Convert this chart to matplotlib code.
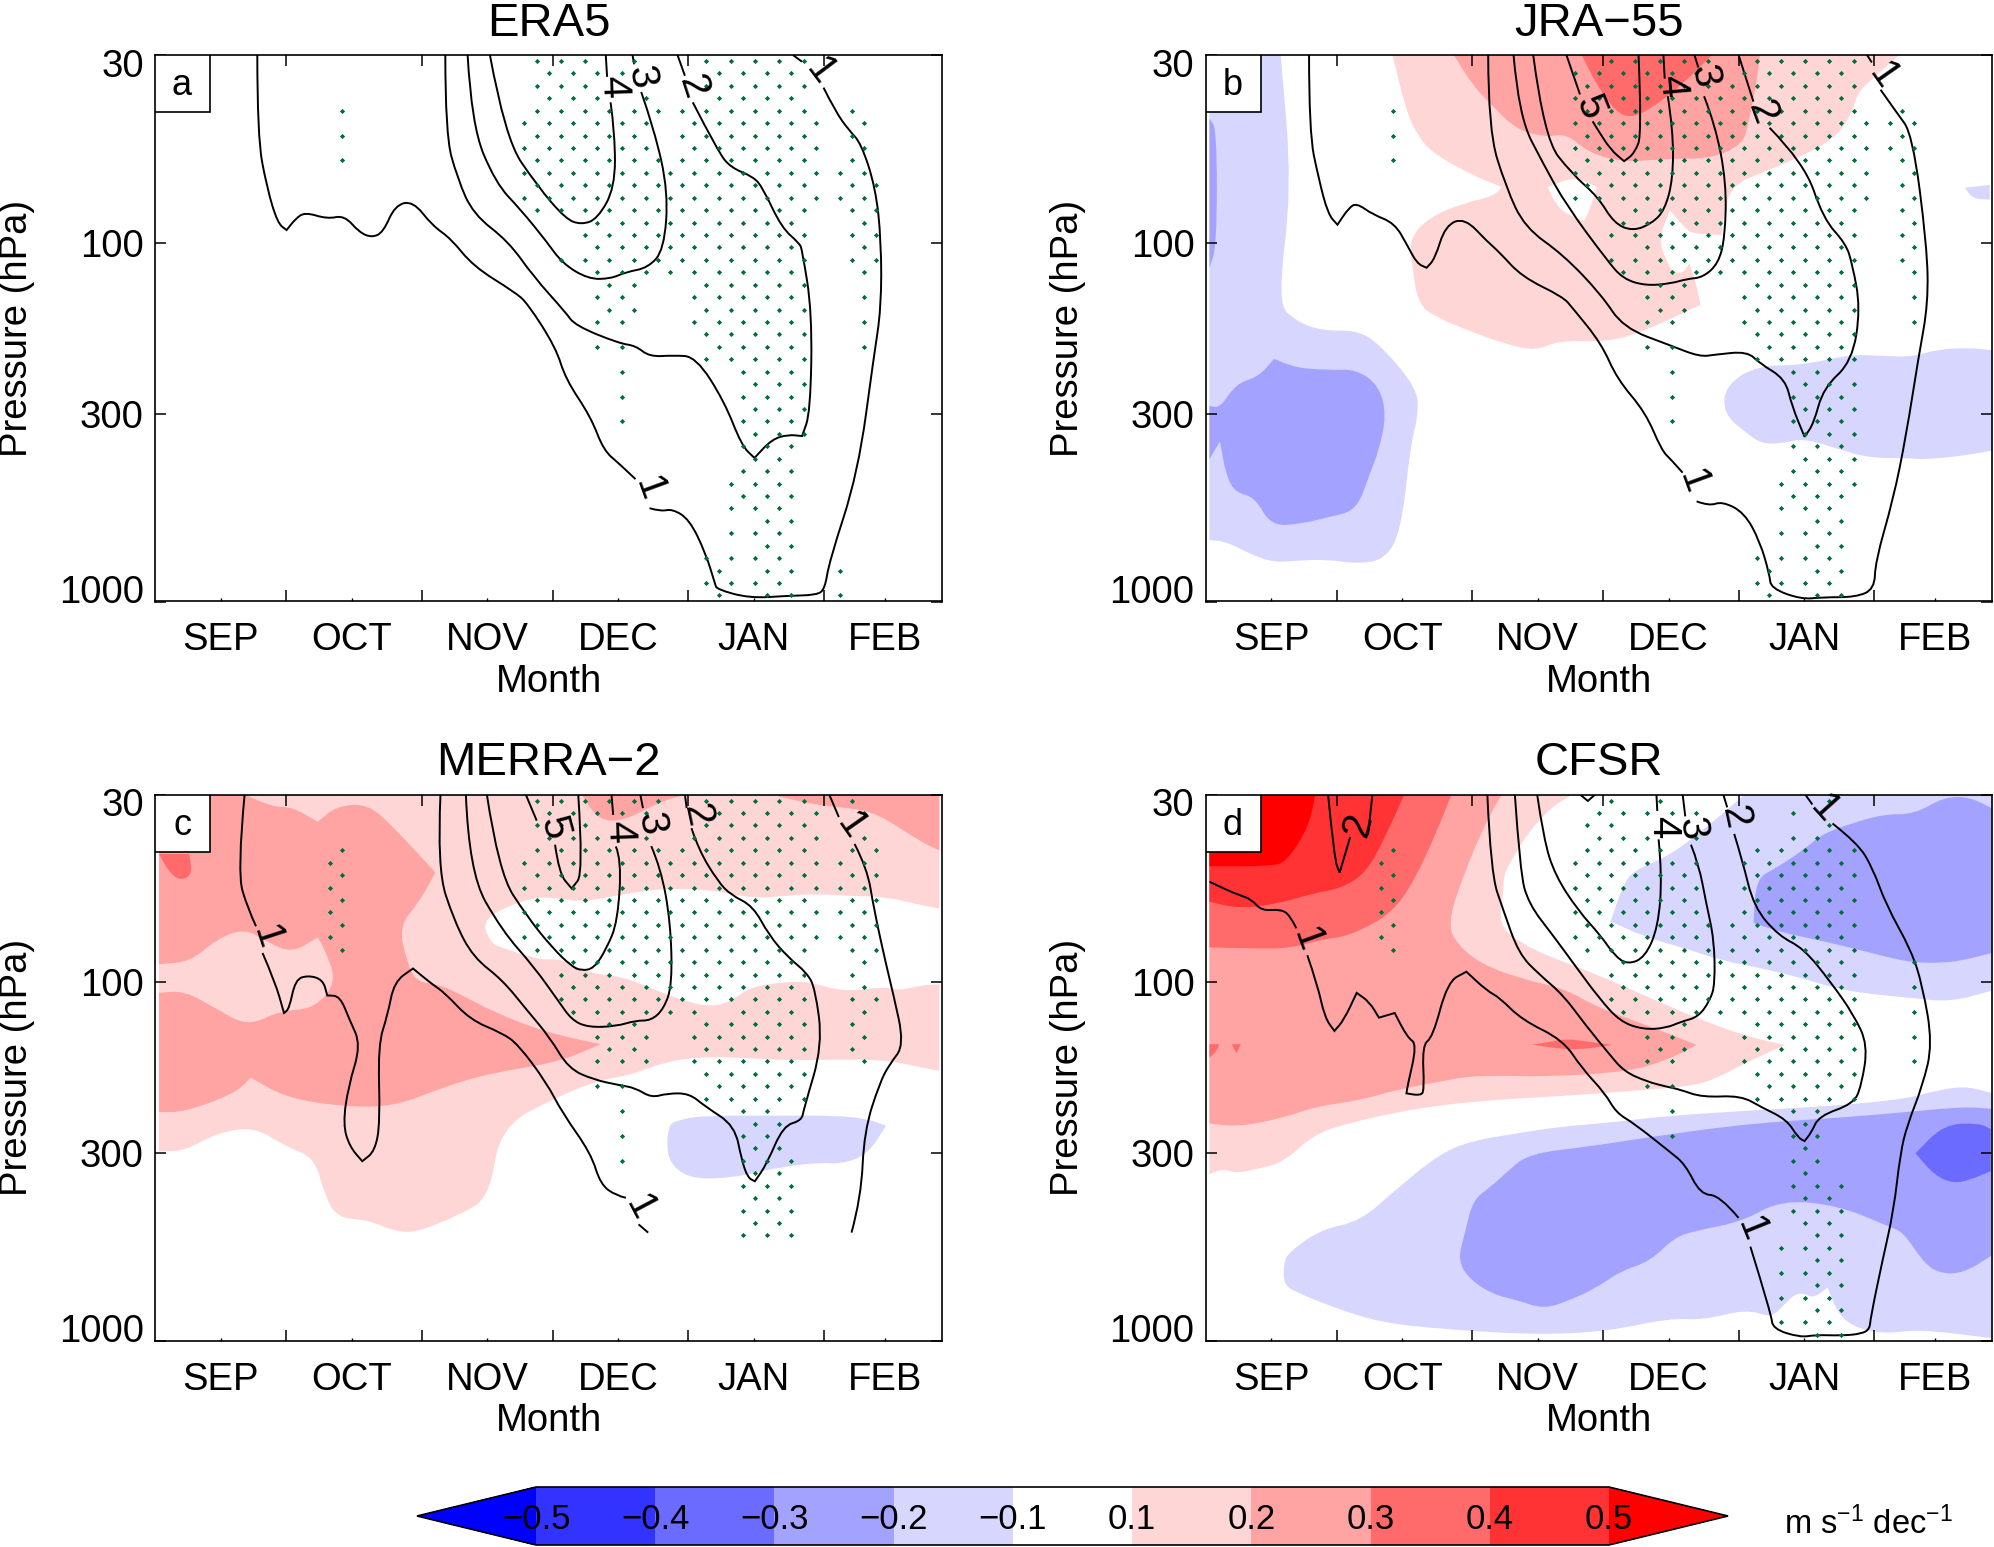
#!/usr/bin/python3
import numpy as np
import matplotlib
matplotlib.use('Agg')
import matplotlib.pyplot as plt
from matplotlib.cm import ScalarMappable
from matplotlib.colors import BoundaryNorm, ListedColormap
from matplotlib.patches import PathPatch, Rectangle
from matplotlib.path import Path
from matplotlib.transforms import ScaledTranslation

plt.rcParams['font.family'] = ['Liberation Sans', 'DejaVu Sans']
plt.rcParams['mathtext.default'] = 'regular'

GAP = (np.nan, np.nan)

months = ['SEP', 'OCT', 'NOV', 'DEC', 'JAN', 'FEB']
month_mid = [15, 45, 76, 106, 137, 167]
month_edge = [30, 61, 91, 122, 153]
p_ticks = [30, 100, 300, 1000]
titles = ['ERA5', 'JRA\u221255', 'MERRA\u22122', 'CFSR']
tags = ['a', 'b', 'c', 'd']

levels = [-0.5, -0.4, -0.3, -0.2, -0.1, 0.1, 0.2, 0.3, 0.4, 0.5]
cbar_labels = ['\u22120.5', '\u22120.4', '\u22120.3', '\u22120.2', '\u22120.1', '0.1', '0.2', '0.3', '0.4', '0.5']
B4, B3, B2, B1 = '#3333ff', '#6b6bff', '#a3a3ff', '#d6d6ff'
R1, R2, R3, R4 = '#ffd6d6', '#ffa3a3', '#ff6b6b', '#ff3333'
B5, R5 = '#0000ff', '#ff0000'

# all curves are (day since 1 Sep, log10 hPa)
# ---- climatological wind contours, panel a
a_c1 = [(23.4,1.477),(23.4,1.704),(25.6,1.847),(28.05,1.946),(30.1,1.965),(32.1,1.934),(34.3,1.915),(39.4,1.934),
        (43.3,1.924),(46.7,1.971),(49.6,1.986),(52.2,1.971),(54.9,1.896),(59.0,1.884),(63.4,1.952),(67.7,1.989),
        (72.8,2.066),(82.3,2.138),(85.2,2.169),(91.7,2.293),(93.9,2.380),(99.7,2.486),(102.6,2.579),(106.2,2.616),
        (109.9,2.659),GAP,(113.1,2.740),(115.7,2.749),(118.3,2.742),(122.2,2.771),(125.9,2.864),(128.1,2.951),
        (128.5,2.966),(136.0,2.991),(144.8,2.984),(151.3,2.982),(153.2,2.966),(154.2,2.889),(160.8,2.641),
        (164.4,2.318),(166.1,2.182),(166.1,1.996),(164.8,1.847),(161.5,1.723),(158.6,1.685),(155.7,1.636),
        (152.9,1.568),GAP,(148.0,1.496),(145.9,1.477)]
a_c2 = [(66.4,1.477),(66.4,1.698),(69.2,1.822),(72.8,1.921),(80.8,1.996),(86.6,2.095),(93.9,2.194),(96.1,2.231),
        (106.2,2.281),(109.9,2.287),(113.1,2.318),(118.6,2.314),(123.7,2.318),(130.2,2.442),(134.2,2.566),
        (137.1,2.600),(141.1,2.548),(144.8,2.535),(148.0,2.539),(149.9,2.473),(150.3,2.194),(148.0,2.020),
        (147.4,2.002),(143.3,1.958),(139.0,1.847),(136.8,1.816),(131.7,1.791),(128.8,1.747),(123.0,1.609),GAP,
        (121.2,1.535),(119.5,1.477)]
a_c3 = [(71.5,1.477),(72.4,1.673),(77.9,1.834),(83.7,1.909),(89.5,1.996),(93.2,2.058),(99.0,2.101),(104.1,2.101),
        (107.7,2.082),(112.8,2.070),(116.4,2.020),(117.4,1.859),(114.2,1.685),(111.2,1.580),GAP,(109.6,1.503),(109.2,1.477)]
a_c4 = [(76.6,1.477),(80.1,1.710),(87.4,1.841),(93.9,1.934),(97.5,1.950),(101.2,1.934),(105.2,1.847),(105.2,1.698),
        (104.2,1.609),GAP,(103.4,1.538),(103.1,1.477)]
a_labels = [('1',113.1,2.686,-70),('1',152.1,1.523,-53),('2',123.0,1.567,-72),('3',111.3,1.540,-80),('4',104.8,1.565,-88)]

# ---- panel b
b_c1 = [(23.7,1.477),(23.7,1.692),(25.9,1.822),(28.05,1.921),(30.2,1.950),(32.8,1.903),(34.6,1.890),(38.2,1.921),
        (43.3,1.946),(46.2,2.008),(48.4,2.058),(50.6,2.070),(52.5,2.045),(54.9,1.952),(59.3,1.931),(64.4,1.996),
        (67.3,2.027),(72.4,2.095),(81.8,2.151),(84.0,2.182),(90.6,2.281),(94.2,2.380),(100.7,2.473),(104.4,2.579),
        (106.5,2.604),(109.2,2.641),GAP,(112.4,2.721),(115.3,2.734),(118.2,2.721),(123.3,2.752),(126.9,2.833),
        (129.1,2.926),(129.4,2.963),(136.3,2.994),(141.4,2.988),(148.7,2.988),(153.1,2.966),(153.3,2.889),
        (157.4,2.715),(160.3,2.541),(163.2,2.318),(165.4,2.169),(165.1,2.008),(161.8,1.698),(158.1,1.636),
        (154.5,1.574),GAP,(152.5,1.498),(151.4,1.477)]
b_c2 = [(64.7,1.477),(64.7,1.685),(68.8,1.847),(73.1,1.958),(81.8,2.033),(90.6,2.145),(95.6,2.237),(106.5,2.287),
        (113.1,2.318),(116.7,2.312),(124.0,2.303),(126.9,2.337),(132.7,2.380),(134.2,2.455),(137.1,2.541),
        (139.2,2.504),(141.4,2.405),(148.0,2.331),(149.9,2.182),(148.0,2.058),(146.5,2.002),(141.4,1.934),
        (137.1,1.779),(129.1,1.680),GAP,(125.4,1.607),(122.0,1.477)]
b_c3 = [(70.5,1.477),(71.7,1.648),(77.5,1.785),(82.6,1.896),(92.0,2.051),(95.6,2.101),(100.7,2.120),(106.5,2.114),
        (110.2,2.101),(113.8,2.097),(117.4,2.058),(118.9,1.983),(119.2,1.834),(116.7,1.673),(114.1,1.592),GAP,
        (112.8,1.512),(111.9,1.477)]
b_c4 = [(75.0,1.477),(77.5,1.710),(84.0,1.810),(89.8,1.872),(93.5,1.946),(97.8,1.968),(102.2,1.946),(105.1,1.909),
        (107.0,1.822),(107.0,1.685),(105.8,1.592),GAP,(105.1,1.543),(104.8,1.477)]
b_c5 = [(82.6,1.477),(85.7,1.587),GAP,(88.6,1.662),(89.6,1.682),(92.7,1.741),(95.8,1.773),(98.2,1.751),(99.9,1.696),(99.1,1.477)]
b_labels = [('1',111.6,2.666,-70),('1',155.2,1.534,-55),('2',127.3,1.637,-70),('3',114.2,1.535,-80),
            ('4',106.7,1.564,-85),('5',87.9,1.622,-68)]

# ---- panel c
c_c1a = [(20.5,1.477),(18.8,1.695),(21.2,1.795),(23.1,1.844),GAP,(24.6,1.919),(27.5,2.0),(29.5,2.086),(30.7,2.074),
         (32.1,1.993),(35.0,1.981),(38.4,1.993),(39.4,2.037),(42.3,2.039),(44.5,2.105),(47.1,2.175),(44.2,2.291),
         (43.0,2.396),(44.5,2.458),(47.4,2.499),(50.3,2.471),(51.5,2.390),(51.0,2.175),(53.2,2.092),(54.7,1.999),
         (59.0,1.962),(63.4,2.006),(66.3,2.030),(72.1,2.105),(79.4,2.142),(83.0,2.173),(89.5,2.279),(93.2,2.365),
         (99.7,2.477),(101.9,2.564),(105.5,2.595),(107.7,2.601),GAP,(110.6,2.675),(112.8,2.698)]
c_c1b = [(159.3,2.698),(161.5,2.601),(162.2,2.415),(165.8,2.279),(168.0,2.229),(171.4,2.175),(168.8,2.030),
         (167.3,1.956),(164.4,1.795),(162.9,1.683),(160.0,1.615),GAP,(156.4,1.540),(154.2,1.477)]
c_c2 = [(65.3,1.477),(64.5,1.683),(68.5,1.832),(72.8,1.931),(79.4,1.993),(85.2,2.080),(90.3,2.154),(94.6,2.241),
        (100.4,2.272),(106.2,2.287),(109.9,2.295),(113.5,2.322),(117.2,2.310),(122.2,2.310),(125.9,2.347),
        (132.6,2.400),(134.2,2.497),(135.6,2.545),(137.2,2.555),(139.9,2.507),(143.7,2.400),(147.9,2.386),
        (148.4,2.353),(152.7,2.176),(151.0,2.018),(149.1,1.974),(144.8,1.931),(140.4,1.869),(136.8,1.788),
        (131.7,1.757),(128.8,1.720),(124.4,1.633),(122.7,1.571),GAP,(121.6,1.515),(121.2,1.477)]
c_c3 = [(71.1,1.477),(71.8,1.695),(79.4,1.857),(86.6,1.956),(92.4,2.055),(95.3,2.105),(99.0,2.126),(105.5,2.123),
        (109.9,2.107),(113.5,2.107),(116.4,2.074),(118.3,2.006),(117.9,1.832),(115.7,1.683),(113.5,1.621),GAP,
        (111.6,1.515),(111.0,1.477)]
c_c4 = [(75.9,1.477),(78.6,1.695),(85.2,1.819),(91.0,1.906),(95.3,1.956),(97.5,1.968),(100.4,1.962),(103.3,1.906),
        (105.8,1.832),(106.7,1.658),(105.4,1.622),GAP,(104.8,1.534),(104.4,1.477)]
c_c5 = [(84.8,1.477),(87.3,1.550),GAP,(91.5,1.617),(92.4,1.697),(95.3,1.739),(98.0,1.697),(96.8,1.477)]
c_labels = [('1',25.6,1.875,-72),('1',110.9,2.630,-62),('1',159.3,1.566,-55),('2',123.9,1.537,-78),
            ('3',113.4,1.557,-82),('4',106.3,1.580,-88),('5',91.3,1.571,-75)]

# ---- panel d
d_c1 = [(0.9,1.720),(4.8,1.743),(7.7,1.757),(10.6,1.770),(12.8,1.801),(17.2,1.797),(19.3,1.813),(20.8,1.850),GAP,
        (23.3,1.925),(25.6,2.006),(27.3,2.099),(29.5,2.136),(31.7,2.105),(34.6,2.030),(37.5,2.055),(39.7,2.099),
        (43.3,2.086),(46.2,2.154),(48.4,2.173),(46.2,2.291),(46.0,2.310),(49.1,2.316),(50.1,2.303),(49.6,2.175),
        (52.0,2.154),(55.4,1.999),(59.7,1.971),(64.4,2.024),(67.3,2.043),(72.4,2.105),(81.8,2.161),(86.2,2.241),
        (91.4,2.309),(94.0,2.364),(98.0,2.393),(106.3,2.473),(109.8,2.508),(113.3,2.592),(117.7,2.594),(122.0,2.657),GAP,
        (124.7,2.737),(129.5,2.926),(129.8,2.966),(136.1,2.990),(139.6,2.983),(145.7,2.985),(150.1,2.980),
        (152.0,2.967),(152.2,2.936),(154.9,2.777),(157.5,2.637),(159.0,2.478),(160.6,2.398),(164.1,2.289),
        (166.4,2.172),(164.1,2.010),(161.5,1.911),(155.8,1.786),(152.7,1.682),(149.2,1.612),(143.5,1.558),GAP,
        (138.9,1.505),(137.3,1.478)]
d_c1b = [(28.05,1.477),(29.5,1.658),(30.7,1.695),(33.1,1.596),GAP,(37.2,1.590),(38.2,1.477)]
d_c2 = [(64.5,1.477),(65.3,1.697),(68.2,1.801),(71.7,1.921),(76.5,1.980),(81.8,2.035),(87.0,2.120),(92.3,2.199),
        (95.8,2.249),(101.0,2.277),(105.4,2.291),(108.5,2.299),(113.7,2.321),(122.5,2.316),(127.3,2.349),
        (133.0,2.383),(135.6,2.433),(137.1,2.443),(138.7,2.418),(140.4,2.373),(148.3,2.339),(150.1,2.289),
        (151.6,2.175),(148.3,2.090),(143.1,2.000),(136.9,1.906),(131.2,1.871),(125.5,1.791),(122.9,1.662),
        (121.0,1.587),GAP,(119.4,1.513),(118.5,1.477)]
d_c3 = [(70.8,1.477),(72.0,1.692),(73.9,1.781),(79.6,1.871),(84.4,1.951),(90.1,2.045),(94.9,2.110),(100.2,2.132),
        (105.4,2.128),(108.9,2.110),(112.8,2.097),(115.5,2.050),(116.6,2.005),(116.4,1.881),(114.6,1.781),
        (112.9,1.672),(111.1,1.617),GAP,(109.8,1.538),(109.2,1.477)]
d_c4 = [(75.9,1.477),(77.4,1.602),(80.0,1.702),(85.3,1.801),(90.5,1.871),(93.6,1.926),(96.6,1.951),(100.6,1.931),
        (103.6,1.846),(104.5,1.702),(103.7,1.602),GAP,(103.4,1.523),(103.2,1.477)]
d_c5 = [(85.7,1.477),(87.5,1.495),(89.2,1.477)]
d_labels = [('1',23.3,1.881,-70),('1',124.8,2.689,-68),('1',141.7,1.518,-48),('2',121.2,1.543,-78),
            ('3',111.4,1.572,-82),('4',104.8,1.568,-90),('2',34.9,1.561,75)]

# ---- trend shading, panel b
b_blue1 = [(0.9,1.477),(17.2,1.477),(19.8,1.847),(16.4,2.169),(20.8,2.219),(26.6,2.246),(34.6,2.244),(39.7,2.281),
           (48.4,2.405),(48.7,2.479),(46.9,2.566),(44.8,2.802),(41.1,2.883),(34.6,2.895),(28.1,2.883),(20.8,2.886),
           (15.7,2.891),(10.6,2.870),(4.8,2.833),(0.9,2.829)]
b_blue2 = [(0.9,2.455),(3.3,2.461),(7.0,2.393),(12.1,2.374),(15.7,2.324),(20.8,2.349),(28.1,2.355),(34.6,2.353),
           (39.7,2.399),(41.4,2.479),(39.7,2.579),(37.5,2.647),(34.6,2.746),(28.1,2.765),(22.2,2.783),(15.0,2.790),
           (11.3,2.709),(7.0,2.697),(4.8,2.653),(3.3,2.554),(0.9,2.604)]
b_strip = [(0.9,1.654),(2.6,1.685),(2.6,2.008),(0.9,2.070)]
b_blue3 = [(118.5,2.476),(119.0,2.397),(126.4,2.342),(136.5,2.342),(147.4,2.312),(154.4,2.315),(161.5,2.319),
           (167.6,2.297),(174.9,2.293),(180,2.300),(180,2.579),(174.9,2.591),(165.0,2.605),(160.6,2.600),
           (151.8,2.600),(144.8,2.575),(136.9,2.545),(131.7,2.560),(127.3,2.560),(123.8,2.531)]
b_speck = [(173.8,1.847),(179.5,1.839),(179.5,1.880),(175.6,1.878)]
b_pink1 = [(42.8,1.477),(45.9,1.632),(48.5,1.701),(52.0,1.751),(60.7,1.810),(67.8,1.845),(66.0,1.870),(59.0,1.890),
           (51.1,1.930),(46.7,1.989),(47.2,2.059),(48.7,2.173),(52.9,2.208),(60.7,2.248),(68.6,2.282),(75.6,2.302),
           (80.9,2.272),(91.4,2.277),(99.3,2.253),(113.3,2.173),(112.0,2.099),(110.7,2.059),(109.4,2.084),
           (107.1,2.084),(105.4,2.049),(103.7,1.989),(106.3,1.910),(109.8,1.960),(111.5,1.975),(118.1,1.979),
           (118.5,1.930),(120.3,1.840),(128.2,1.801),(136.1,1.761),(143.9,1.711),(147.9,1.642),(149.2,1.582),
           (152.7,1.543),(158.8,1.477)]
b_hole = [(78.3,1.845),(84.4,1.816),(89.6,1.845),(87.9,1.910),(86.6,1.940),(80.9,1.910)]
b_pink2 = [(56.8,1.477),(61.2,1.562),(65.1,1.612),(71.3,1.687),(78.3,1.706),(82.6,1.696),(87.9,1.751),(95.8,1.776),
           (105.4,1.766),(115.9,1.766),(122.9,1.726),(124.2,1.672),(126.0,1.562),(126.9,1.477)]
b_pink3 = [(86.1,1.477),(89.6,1.562),(94.0,1.637),(97.5,1.652),(101.9,1.627),(108.9,1.562),(115.9,1.477)]

# ---- panel c
c_pink1 = [(0.9,1.477),(179.4,1.477),(179.4,2.247),(175.0,2.237),(166.6,2.216),(155.1,2.216),(143.7,2.218),
           (132.3,2.209),(123.1,2.209),(115.5,2.227),(108.6,2.260),(101.8,2.272),(91.9,2.320),(78.9,2.404),
           (76.5,2.601),(69.2,2.651),(59.7,2.698),(54.7,2.694),(48.8,2.663),(41.6,2.657),(38.7,2.589),(36.5,2.489),
           (29.9,2.458),(22.7,2.403),(14.0,2.421),(6.7,2.471),(0.9,2.471)]
c_hole = [(75.0,1.844),(77.2,1.807),(86.5,1.762),(92.6,1.767),(98.0,1.776),(106.3,1.757),(115.5,1.739),(127.7,1.743),
          (136.8,1.767),(143.7,1.760),(151.3,1.754),(158.9,1.760),(167.3,1.762),(175.0,1.785),(179.4,1.795),
          (179.4,2.006),(175.0,2.009),(170.4,2.023),(166.6,2.013),(157.4,2.027),(149.8,1.999),(144.5,1.999),
          (136.1,2.013),(132.3,2.050),(127.7,2.069),(121.6,2.055),(114.7,2.023),(107.1,1.985),(99.5,1.976),
          (92.6,1.934),(88.0,1.939),(78.9,1.902),(77.2,1.894)]
c_pink2a = [(0.9,1.477),(20.5,1.477),(27.0,1.512),(31.4,1.512),(37.2,1.553),(41.6,1.509),(48.8,1.503),(54.7,1.571),
            (60.5,1.646),(64.1,1.695),(60.5,1.776),(55.8,1.844),(57.6,1.943),(59.7,1.999),(64.8,2.006),(69.2,2.030),
            (77.9,2.086),(89.5,2.140),(101.9,2.173),(92.4,2.223),(76.5,2.254),(66.3,2.291),(54.7,2.347),(43.0,2.347),
            (29.9,2.322),(21.9,2.266),(18.3,2.310),(6.7,2.362),(0.9,2.362),(0.9,2.030),(6.7,2.024),(14.0,2.074),
            (21.2,2.123),(28.5,2.080),(36.5,2.074),(41.6,1.999),(38.7,1.906),(37.2,1.875),(31.4,1.919),(25.6,1.888),
            (20.5,1.850),(14.0,1.881),(8.1,1.943),(0.9,1.950)]
c_pink2b = [(97.6,1.477),(101.4,1.548),(107.1,1.552),(115.5,1.497),(121.6,1.477)]
c_pink2c = [(141.0,1.477),(150.6,1.506),(158.9,1.515),(165.1,1.529),(175.0,1.608),(179.4,1.633),(179.4,1.477)]
c_pink3 = [(0.9,1.643),(7.8,1.643),(8.6,1.698),(6.0,1.717),(3.5,1.698)]
c_blue1 = [(117.4,2.400),(119.3,2.386),(124.6,2.372),(143.0,2.372),(155.9,2.372),(162.8,2.381),(167.2,2.400),
           (162.8,2.483),(156.7,2.507),(152.1,2.502),(143.0,2.516),(137.6,2.530),(132.3,2.544),(123.9,2.549),
           (119.3,2.525),(117.0,2.479)]

# ---- panel d
d_pink1 = [(0.9,1.477),(84.0,1.477),(79.1,1.513),(73.9,1.582),(70.4,1.652),(68.2,1.702),(68.2,1.752),(67.1,1.841),
           (72.1,1.891),(79.1,1.931),(87.9,1.970),(101.0,2.040),(112.4,2.100),(123.4,2.150),(132.6,2.175),
           (122.9,2.229),(116.8,2.269),(111.5,2.289),(101.9,2.299),(91.4,2.309),(79.1,2.319),(65.1,2.329),
           (52.9,2.344),(43.2,2.364),(33.9,2.390),(25.1,2.421),(17.9,2.502),(12.1,2.520),(7.0,2.533),(4.1,2.520),(0.9,2.535)]
d_pink2 = [(0.9,1.477),(67.8,1.477),(64.2,1.553),(59.0,1.702),(55.3,1.841),(58.1,1.901),(63.4,1.951),(72.1,1.990),
           (82.6,2.020),(89.6,2.070),(101.0,2.120),(112.4,2.175),(105.4,2.219),(96.7,2.249),(79.1,2.264),(61.6,2.259),
           (52.9,2.279),(44.1,2.299),(35.4,2.329),(25.1,2.347),(17.9,2.378),(7.7,2.403),(0.9,2.394)]
d_pink3 = [(0.9,1.477),(56.3,1.477),(52.8,1.584),(47.7,1.720),(42.6,1.807),(35.3,1.857),(31.0,1.875),(26.6,1.881),
           (19.3,1.906),(10.6,1.906),(0.9,1.903)]
d_red4 = [(0.9,1.477),(45.5,1.477),(41.1,1.596),(36.8,1.695),(31.0,1.739),(25.1,1.751),(16.4,1.782),(7.7,1.795),(0.9,1.776)]
d_red5 = [(0.9,1.477),(25.1,1.477),(23.7,1.565),(18.6,1.664),(15.0,1.677),(0.9,1.677)]
d_streak = [(74.8,2.174),(79.1,2.166),(82.6,2.158),(87.0,2.165),(93.1,2.175),(85.3,2.189),(80.0,2.184)]
d_tick1 = [(0.9,2.173),(3.1,2.173),(2.6,2.192),(0.9,2.210)]
d_tick2 = [(6.0,2.173),(8.1,2.173),(7.1,2.198)]
d_lb1 = [(123.4,1.477),(112.4,1.592),(105.4,1.652),(98.4,1.687),(95.8,1.722),(92.7,1.831),(101.0,1.876),(109.8,1.906),
         (118.5,1.941),(127.3,1.961),(136.9,1.990),(144.8,2.020),(153.6,2.035),(162.3,2.045),(170.5,2.055),
         (179.9,2.024),(180,1.477)]
d_mb1 = [(125.4,1.835),(126.0,1.711),(130.8,1.681),(136.9,1.631),(141.3,1.586),(148.3,1.556),(155.3,1.532),
         (162.3,1.532),(169.0,1.484),(174.9,1.484),(179.9,1.515),(179.9,1.919),(172.7,1.941),(168.5,1.946),
         (162.3,1.946),(156.2,1.931),(148.3,1.906),(139.6,1.881),(131.7,1.861)]
d_lb2 = [(17.9,2.781),(19.3,2.750),(26.6,2.688),(35.4,2.667),(44.1,2.572),(53.7,2.478),(60.7,2.443),(70.4,2.423),
         (80.9,2.403),(91.4,2.393),(105.4,2.373),(122.9,2.359),(140.4,2.347),(149.2,2.339),(160.6,2.324),(165.0,2.309),
         (173.4,2.288),(179.9,2.309),(179.9,2.992),(163.2,2.967),(156.2,2.980),(149.2,2.966),(144.8,2.926),
         (142.4,2.851),(139.1,2.881),(136.9,2.866),(134.7,2.871),(132.6,2.896),(129.5,2.936),(124.0,2.911),
         (113.8,2.942),(106.5,2.936),(92.0,2.973),(76.0,2.983),(54.2,2.967),(39.7,2.948),(28.1,2.901),(20.8,2.864),(17.9,2.843)]
d_mb2 = [(73.9,2.478),(87.9,2.458),(101.0,2.433),(118.5,2.403),(131.7,2.388),(144.8,2.378),(159.7,2.363),(173.4,2.347),
         (179.9,2.353),(179.9,2.762),(173.4,2.812),(167.6,2.811),(164.1,2.777),(159.7,2.697),(156.6,2.682),(144.8,2.622),
         (131.7,2.607),(122.9,2.667),(112.4,2.692),(107.2,2.712),(101.9,2.777),(94.9,2.806),(89.6,2.851),(83.5,2.886),
         (77.4,2.911),(71.3,2.886),(66.0,2.871),(60.7,2.831),(57.7,2.777),(59.4,2.697),(61.2,2.607),(65.1,2.572),(69.1,2.528)]
d_db = [(162.5,2.477),(169.0,2.396),(177.0,2.393),(179.7,2.409),(179.7,2.527),(174.9,2.551),(171.2,2.561),(166.9,2.539)]

# ---- significance stippling: index of grid column in each grid row
stip_day0, stip_dday = 84.5, 2.775
stip_lp0, stip_dlp = 1.4939, 0.03463
stip_a = [[1,3,5,9,15,17,19,21,23],[2,4,6,8,16,18,20,22],[1,3,5,15,17,19,21,23],[2,4,6,10,16,18,20,22],
          [-15,1,3,5,7,9,11,13,15,17,19,21,23,27],[0,2,4,6,8,10,14,16,18,20,22,24,28],
          [-15,1,3,5,7,9,13,15,17,19,21,23,27],[0,2,4,6,8,10,14,16,18,20,22,24,28],
          [-15,1,3,5,7,9,11,13,15,17,19,21,23,27],[0,2,4,6,8,10,12,14,16,18,20,22,24,26,28],
          [1,3,5,7,9,11,13,15,17,19,21,23,27,29],[0,2,4,6,8,10,12,14,16,18,20,22,24,26,28],
          [1,3,5,7,9,11,13,15,17,19,21,23,27,29],[6,8,10,12,14,16,18,20,22,28],
          [5,7,9,11,13,15,17,19,21,23,27,29],[6,8,10,12,14,16,18,20,22,28],
          [3,5,7,9,11,13,15,17,19,21,23,27,29],[6,8,10,12,14,16,18,20,22,28],
          [7,9,15,17,19,21,23],[6,8,14,16,18,20,22,28],[7,9,15,17,19,21,23],[6,8,14,16,18,20,22,28],
          [15,17,19,21,23],[6,8,16,18,20,22,28],[15,17,19,21,23],[8,18,20,22],[19,21,23],[8,18,20,22],[19,21,23],
          [8,18,20,22],[19,21,23],[18,20,22],[19,21],[18,20,22],[17,19,21],[18,20,22],[17,19,21],[20,22],[17,19,21],
          [20,22],[15,17,19,21],[16,20,22,26],[15,17,19,21],[16,20,22,26]]
stip_b = [[3,5,7,9,11,15,17,19,21,23],[0,2,4,6,8,10,14,16,18,20,22],[1,3,5,7,9,11,13,15,17,19,21,23],
          [0,2,4,6,8,10,12,14,16,18,20,22],[-15,1,3,5,7,9,11,13,15,17,19,21,23,27],
          [0,2,4,6,8,10,12,14,16,18,20,22,24,26,28],[-15,1,3,5,7,9,11,13,15,17,19,21,23,27],
          [0,2,4,6,8,10,12,14,16,18,20,22,24,26,28],[-15,1,3,5,7,9,11,13,15,17,19,21,23,27],
          [0,2,4,6,8,10,12,14,16,18,20,22,24,28],[1,3,5,7,9,11,13,15,17,19,21,23,27],
          [0,2,4,6,8,10,12,14,16,18,20,22,24,28],[5,7,9,11,13,15,17,19,21,23,27],[4,6,8,10,12,14,16,18,20,22,28],
          [3,5,7,9,11,13,15,17,19,21,23,27],[6,8,10,12,14,16,18,20,22,28],[3,5,7,9,11,13,15,17,19,21,23,27],
          [4,6,8,10,12,14,16,18,20,22,28],[7,9,15,17,19,21,23],[6,8,14,16,18,20,22,28],[7,9,15,17,19,21,23],
          [6,8,14,16,18,20,22,28],[15,17,19,21,23],[6,8,16,18,20,22],[15,17,19,21,23],[8,18,20],[19,21,23],
          [8,18,20,22],[19,21,23],[8,18,20,22],[19,21,23],[18,20,22],[19,21,23],[18,20,22],[17,19,21,23],[18,20,22],
          [17,19,21],[20,22],[17,19,21],[20,22],[15,17,19,21],[16,20,22],[15,17,19,21],[16,20,22]]
stip_c = [[1,3,5,7,9,11,15,17,19,21,23,27],[2,4,6,8,10,16,18,20,22,24,28],[1,3,5,15,17,19,21,23],
          [2,4,6,10,14,16,18,20,22,24,28],[-15,1,3,5,7,9,11,13,15,17,19,21,23,27,29],
          [-16,0,2,4,6,8,10,12,14,16,18,20,22,24,26,28],[-15,1,3,5,7,9,11,13,15,17,19,21,23,27,29],
          [-16,0,2,4,6,8,10,12,14,16,18,20,22,24,26,28],[-15,1,3,5,7,9,11,13,15,17,19,21,23,27,29],
          [-16,0,2,4,6,8,10,12,14,16,18,20,22,24,26,28],[-15,1,3,5,7,9,11,13,15,17,19,21,23,27,29],
          [-16,0,2,4,6,8,10,12,14,16,18,20,22,24,26,28],[-15,1,3,5,7,9,11,13,15,17,19,21,23,27,29],
          [4,6,8,10,12,14,16,18,20,22,28],[3,5,7,9,11,13,15,17,19,21,23,27],[4,6,8,10,12,14,16,18,20,22,28],
          [3,5,7,9,11,13,15,17,19,21,23,27,29],[4,6,8,10,12,14,18,20,22,28],[7,9,15,17,19,21,23,27],
          [6,8,10,14,16,18,20,22,28],[7,9,15,17,19,21,23,27],[6,8,10,14,16,18,20,22,28],[15,17,19,21,23],
          [6,8,16,18,20,22],[15,17,19,21,23],[8,18,20],[19,21],[8,18,20],[19,21],[8,18,20,22],[19,21],[18,20,22],
          [19,21],[18,20,22],[19,21],[18,20,22]]
stip_d = [[3,7,21],[2,4,6,8,10,18],[1,3,21],[2,4,6,10,18,20],[-15,1,3,5,7,15,17,19,21,23],
          [-16,0,2,4,6,8,10,14,16,18,20,22],[-15,1,3,5,7,9,15,17,19,21,23],[-16,0,2,4,6,8,10,14,16,18,20,22],
          [-15,1,3,5,7,9,15,17,19,21,23],[-16,0,2,4,6,8,10,14,16,18,20,22],[-15,1,3,5,7,9,11,13,15,17,19,21,23],
          [-16,0,2,4,6,8,10,14,16,18,20,22],[-15,1,3,5,7,9,11,13,15,17,19,21,23],[4,6,8,10,12,14,16,18,20,22,28],
          [3,5,7,9,11,13,15,17,19,21,23],[4,6,8,10,14,16,18,20,22,28],[3,5,7,9,11,13,15,17,19,21,23],
          [4,6,8,10,12,14,16,18,20,22,28],[9,15,17,19,21,23],[6,8,14,16,18,20,22,28],[7,9,15,17,19,21,23],
          [6,8,14,16,18,20,22,28],[15,17,19,21,23],[6,8,16,18,20,22],[15,17,19,21,23],[8,18,20],[19],[8,18,20],[19],
          [18,20],[19],[18,20,22],[19,21],[18,20,22],[19,21],[20,22],[17,19,21],[20,22],[17,19,21],[20,22],[17,19,21],
          [20,22],[17,19,21],[20,22]]

panels = [
    dict(fills=[], lines=[a_c1, a_c2, a_c3, a_c4], labels=a_labels, stip=stip_a),
    dict(fills=[(b_blue1,B1),(b_strip,B2),(b_blue2,B2),(b_blue3,B1),(b_speck,B1),(b_pink1,R1),(b_hole,'white'),
                (b_pink2,R2),(b_pink3,R3)],
         lines=[b_c1, b_c2, b_c3, b_c4, b_c5], labels=b_labels, stip=stip_b),
    dict(fills=[(c_pink1,R1),(c_hole,'white'),(c_pink2a,R2),(c_pink2b,R2),(c_pink2c,R2),(c_pink3,R3),(c_blue1,B1)],
         lines=[c_c1a, c_c1b, c_c2, c_c3, c_c4, c_c5], labels=c_labels, stip=stip_c),
    dict(fills=[(d_lb1,B1),(d_mb1,B2),(d_lb2,B1),(d_mb2,B2),(d_db,B3),(d_pink1,R1),(d_pink2,R2),(d_streak,R3),
                (d_tick1,R3),(d_tick2,R3),(d_pink3,R3),(d_red4,R4),(d_red5,R5)],
         lines=[d_c1, d_c1b, d_c2, d_c3, d_c4, d_c5], labels=d_labels, stip=stip_d),
]
ax_rects = [[155, 55, 787, 546.5], [1205.5, 55, 786.5, 546.5], [155, 794.5, 787, 546.5], [1205.5, 794.5, 786.5, 546.5]]
W, H = 1994, 1547


def is_corner(prev, cur, nxt):
    # axis-edge vertices and sharp tips stay sharp, the rest are drawn rounded
    if cur[0] <= 1 or cur[0] >= 179 or cur[1] <= 1.478:
        return True
    v1 = (cur - prev) * [1 / 180, 0.46]
    v2 = (nxt - cur) * [1 / 180, 0.46]
    cos = np.dot(v1, v2) / (np.linalg.norm(v1) * np.linalg.norm(v2) + 1e-12)
    return cos < 0.35


def rounded_path(points, closed):
    pts = np.array(points, dtype=float)
    n = len(pts)
    verts, codes = [], []
    if closed:
        idx = range(n)
        start = (pts[-1] + pts[0]) / 2
    else:
        idx = range(1, n - 1)
        start = pts[0]
    verts.append(start)
    codes.append(Path.MOVETO)
    for i in idx:
        cur, prev, nxt = pts[i], pts[i - 1], pts[(i + 1) % n]
        end = (cur + nxt) / 2
        if not closed and i == n - 2:
            end = nxt
        if is_corner(prev, cur, nxt):
            verts += [cur, end]
            codes += [Path.LINETO, Path.LINETO]
        else:
            verts += [cur, end]
            codes += [Path.CURVE3, Path.CURVE3]
    if not closed and n == 2:
        verts.append(pts[1])
        codes.append(Path.LINETO)
    verts = np.array(verts)
    verts[:, 1] = 10 ** verts[:, 1]
    return Path(verts, codes)


def split_gaps(line):
    parts, cur = [], []
    for pt in line:
        if np.isnan(pt[0]):
            parts.append(cur)
            cur = []
        else:
            cur.append(pt)
    parts.append(cur)
    return parts


def draw_panel(fig, rect, panel, title, tag):
    ax = fig.add_axes([rect[0] / W, 1 - (rect[1] + rect[3]) / H, rect[2] / W, rect[3] / H])
    ax.set_yscale('log')

    for poly, color in panel['fills']:
        ax.add_patch(PathPatch(rounded_path(poly, True), facecolor=color, lw=0, zorder=1))

    for line in panel['lines']:
        for part in split_gaps(line):
            ax.add_patch(PathPatch(rounded_path(part, False), fill=False, edgecolor='k', lw=1.4, zorder=3))

    sx, sy = [], []
    for row, cols in enumerate(panel['stip']):
        for col in cols:
            sx.append(stip_day0 + stip_dday * col)
            sy.append(10 ** (stip_lp0 + stip_dlp * row))
    ax.scatter(sx, sy, marker='D', s=7, color='#006d3c', lw=0, zorder=4)

    for text, day, lp, rot in panel['labels']:
        ax.text(day, 10 ** lp, text, fontsize=29, rotation=rot, ha='center', va='center',
                rotation_mode='anchor', zorder=5)

    ax.set_xlim(0, 180)
    ax.set_ylim(1000, 30)
    ax.set_yticks(p_ticks, labels=[str(p) for p in p_ticks])
    ax.yaxis.set_minor_locator(matplotlib.ticker.NullLocator())
    ax.set_xticks(month_edge, labels=[])
    ax.set_xticks(month_mid, labels=months, minor=True)
    ax.tick_params(axis='both', which='major', direction='in', length=8, width=1.1, top=True, right=True, labelsize=27.5)
    ax.tick_params(axis='y', which='major', pad=8)
    ax.tick_params(axis='x', which='minor', direction='in', length=2, width=1, top=False, labelsize=27.5, pad=15)
    for spine in ax.spines.values():
        spine.set_linewidth(1.2)

    # first and last pressure label sit inside the axis range
    for lab, off in zip(ax.get_yticklabels(), [-5.5, 0, 0, 9]):
        lab.set_transform(lab.get_transform() + ScaledTranslation(0, off / 72, fig.dpi_scale_trans))

    ax.set_title(title, fontsize=34, pad=14)
    ax.set_ylabel('Pressure (hPa)', fontsize=27.5)
    ax.yaxis.set_label_coords(-0.152, 0.5)
    ax.set_xlabel('Month', fontsize=27.5)
    ax.xaxis.set_label_coords(0.5, -0.114)

    ax.add_patch(Rectangle((0, 1 - 57 / rect[3]), 55 / rect[2], 57 / rect[3], transform=ax.transAxes,
                           facecolor='white', edgecolor='k', lw=1.2, zorder=6))
    ax.text(27 / rect[2], 1 - 31 / rect[3], tag, transform=ax.transAxes, fontsize=26, ha='center', va='center', zorder=7)
    return ax


def main():
    fig = plt.figure(figsize=(W / 100, H / 100), dpi=100)
    for rect, panel, title, tag in zip(ax_rects, panels, titles, tags):
        draw_panel(fig, rect, panel, title, tag)

    cmap = ListedColormap([B4, B3, B2, B1, 'white', R1, R2, R3, R4])
    cmap.set_under(B5)
    cmap.set_over(R5)
    norm = BoundaryNorm(levels, cmap.N)
    cax = fig.add_axes([417 / W, 1 - 1545 / H, 1311 / W, 58 / H])
    cbar = fig.colorbar(ScalarMappable(norm=norm, cmap=cmap), cax=cax, orientation='horizontal', extend='both',
                        extendfrac=0.111, spacing='uniform')
    cbar.set_ticks(levels, labels=cbar_labels)
    cbar.ax.tick_params(axis='x', which='both', length=0, pad=-30, labelsize=25)
    cbar.ax.minorticks_off()
    cbar.outline.set_linewidth(1.2)
    fig.text(1784 / W, 1 - 1524 / H, 'm s$^{-1}$ dec$^{-1}$', fontsize=23.5, ha='left', va='center')

    fig.savefig('out.png', dpi=100)


if __name__ == '__main__':
    main()
